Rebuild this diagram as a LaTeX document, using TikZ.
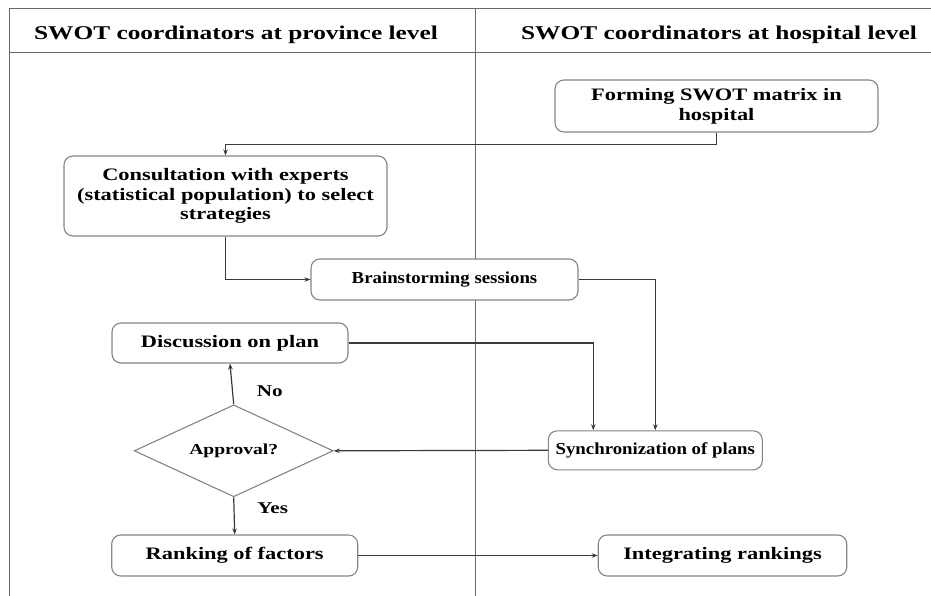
\documentclass[tikz,border=0pt]{standalone}
\usepackage{fontspec}
\setmainfont{Liberation Serif}
\newfontfamily\wideff[FakeStretch=1.28]{Liberation Serif}
\newfontfamily\midff[FakeStretch=1.12]{Liberation Serif}
\newfontfamily\hdff[FakeStretch=1.3]{Liberation Serif}
\usetikzlibrary{shapes.geometric,arrows.meta,calc}
\definecolor{framec}{HTML}{6A6A6A}
\definecolor{boxc}{HTML}{858585}
\definecolor{linec}{HTML}{3A3A3A}
\begin{document}
\begin{tikzpicture}[x=1pt,y=-1pt,
  frame/.style={draw=framec,line width=1pt},
  box/.style={draw=boxc,fill=white,line width=1.1pt,rounded corners=9pt,inner sep=0pt,align=center,
    font=\wideff\bfseries\fontsize{17.5}{19.8}\selectfont},
  boxm/.style={box,font=\midff\bfseries\fontsize{16.8}{19}\selectfont},
  dec/.style={draw=boxc,fill=white,line width=1.1pt,shape=diamond,inner sep=0pt,aspect=2.16,
    font=\wideff\bfseries\fontsize{15.3}{17}\selectfont},
  arr/.style={draw=linec,line width=1.2pt,-{Stealth[length=6pt,width=4.5pt]}},
  hdr/.style={font=\hdff\bfseries\fontsize{19.5}{22}\selectfont,inner sep=0pt},
  lbl/.style={font=\wideff\bfseries\fontsize{16.5}{19}\selectfont,inner sep=0pt}]
\useasboundingbox (0,0) rectangle (931,596);
% frame
\draw[frame] (9,596) -- (9,9) -- (931,9);
\draw[frame] (9,53) -- (931,53);
\draw[frame] (475,9) -- (475,596);
% headers
\node[hdr] (h1) at (236,35) {SWOT coordinators at province level};
\node[hdr] (h2) at (719,35) {SWOT coordinators at hospital level};
% connectors drawn first so boxes sit on top
\node[box,minimum width=323pt,minimum height=52pt] (form) at (716.5,106) {Forming SWOT matrix in\\hospital};
\node[box,minimum width=323pt,minimum height=80pt] (cons) at (225.5,196) {Consultation with experts\\(statistical population) to select\\strategies};
\node[boxm,minimum width=267pt,minimum height=41pt] (brain) at (444.5,279.5) {Brainstorming sessions};
\node[box,minimum width=236pt,minimum height=40pt] (disc) at (230,343) {Discussion on plan};
\node[boxm,minimum width=214pt,minimum height=39pt] (sync) at (655.3,450.3) {Synchronization of plans};
\node[dec,minimum width=199pt,minimum height=92pt] (appr) at (233.7,450.8) {Approval?};
\node[box,minimum width=246pt,minimum height=41pt] (rank) at (234.7,555.5) {Ranking of factors};
\node[box,minimum width=248.5pt,minimum height=41pt] (integ) at (722.5,555.5) {Integrating rankings};
% connectors
\draw[arr] (form.south) -- ++(0,12) -| (cons.north);
\draw[arr] (cons.south) |- (brain.west);
\draw[arr] (brain.east) -| (sync.north);
\draw[arr] (disc.east) -| ([xshift=-62pt]sync.north);
\draw[arr] (sync.west) -- (appr.east);
\draw[arr] (appr.north) -- (disc.south);
\draw[arr] (appr.south) -- (rank.north);
\draw[arr] (rank.east) -- (integ.west);
% labels
\node[lbl] (no) at (269.7,391) {No};
\node[lbl] (yes) at (272.7,508) {Yes};
\end{tikzpicture}
\end{document}
